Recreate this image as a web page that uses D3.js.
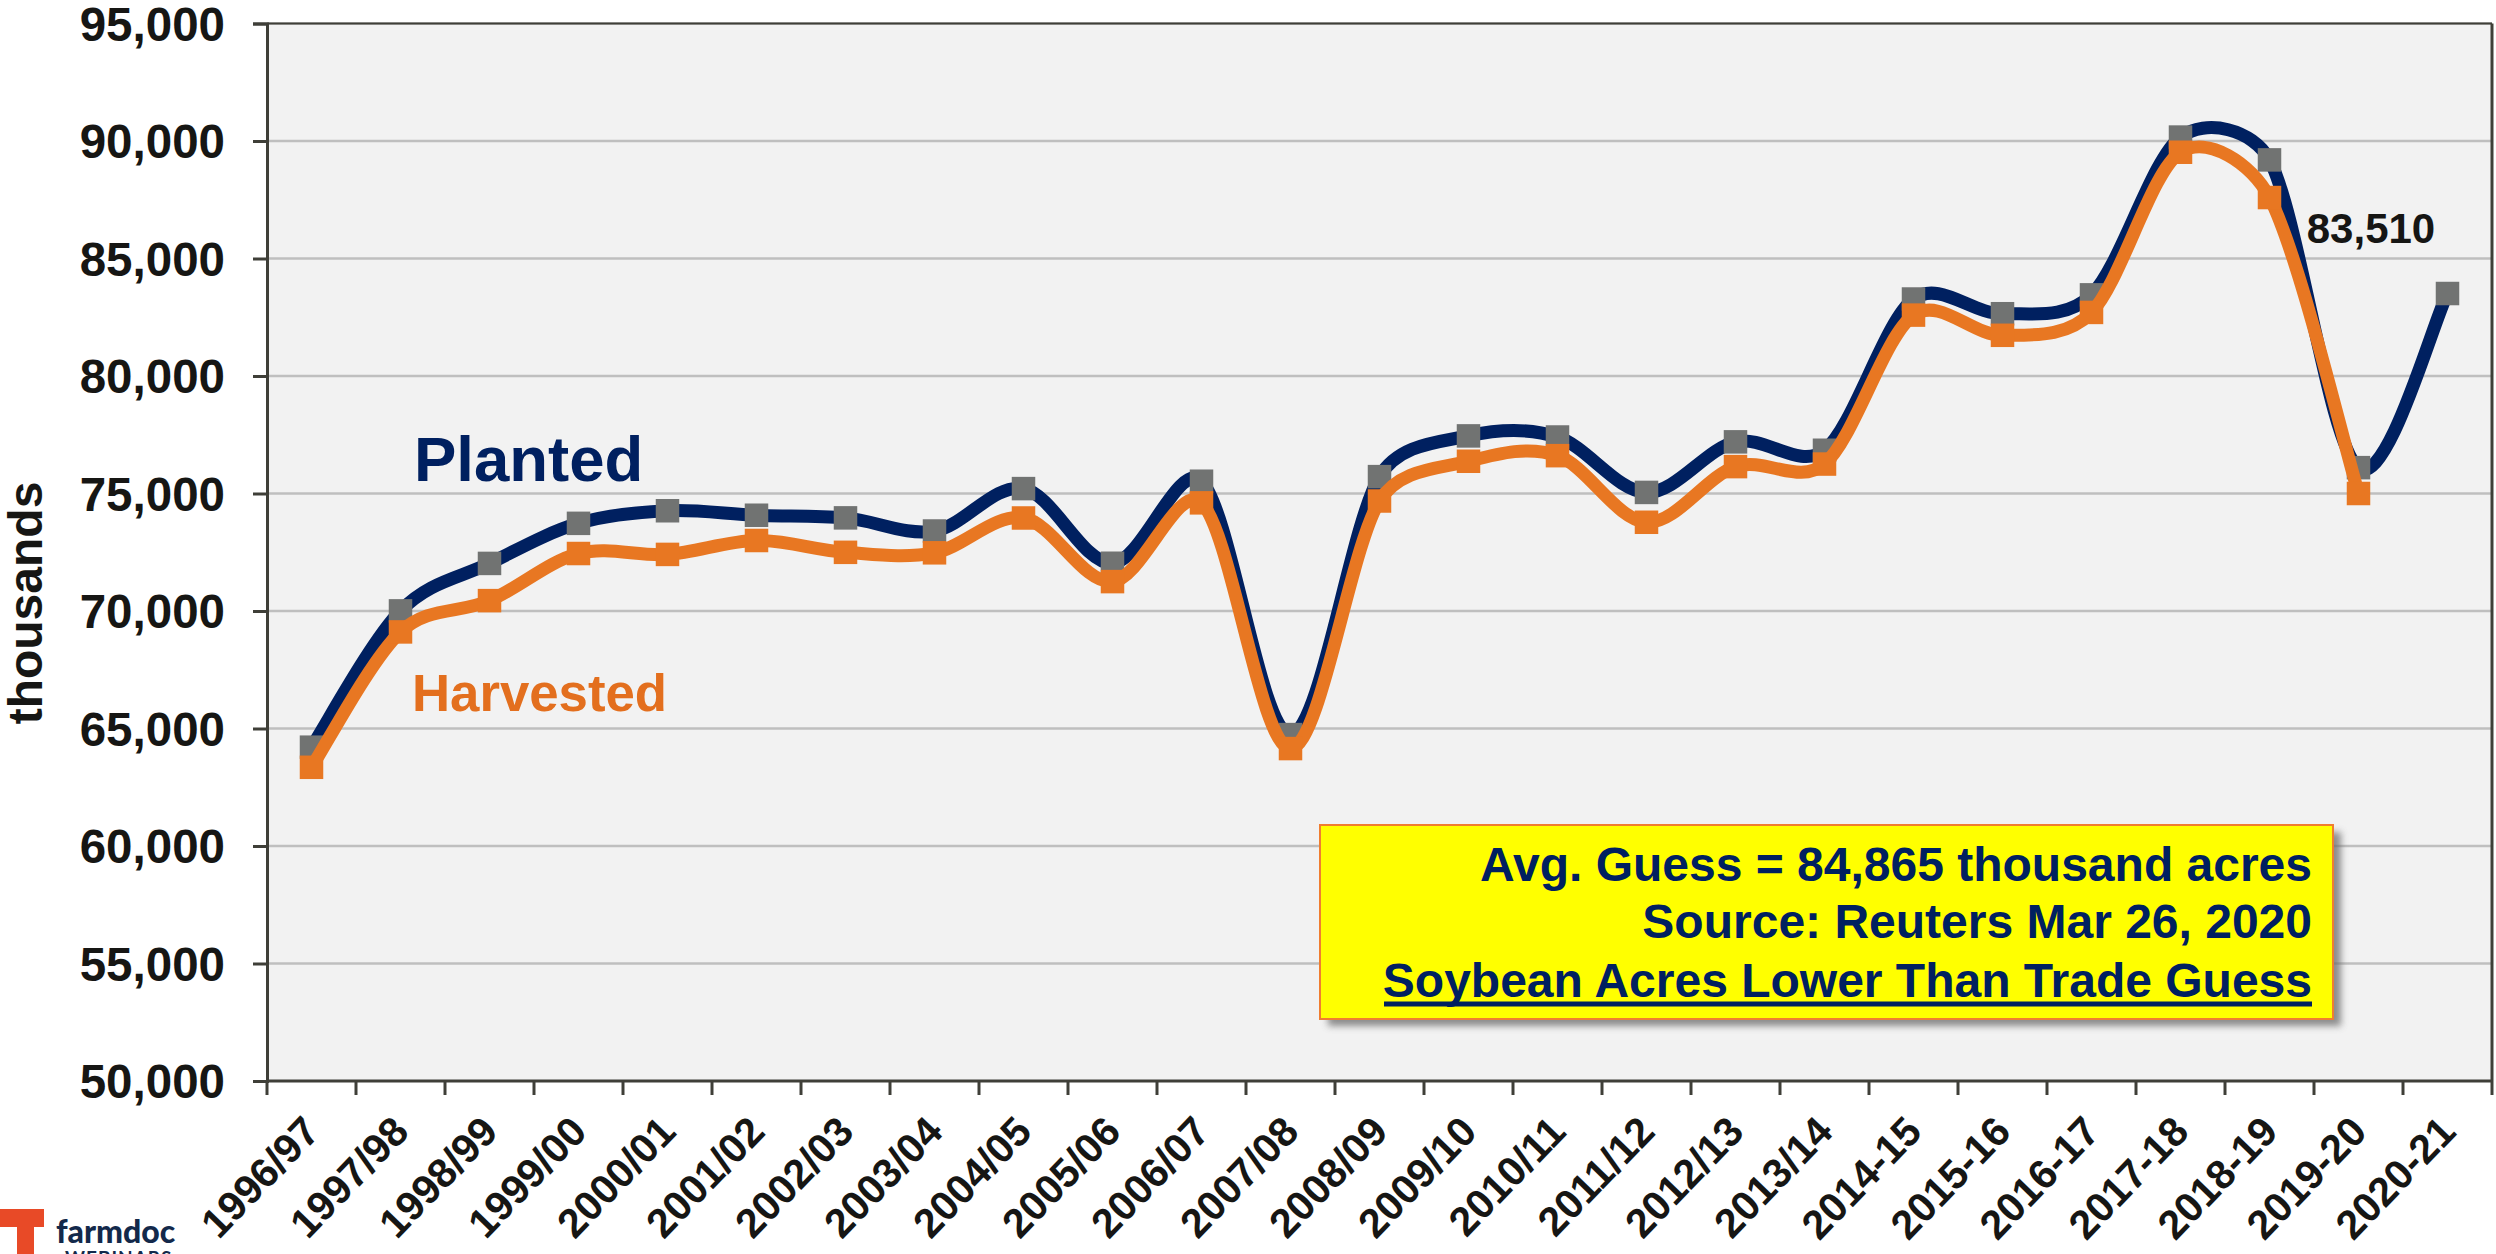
<!DOCTYPE html>
<html><head><meta charset="utf-8">
<script src="https://d3js.org/d3.v7.min.js"></script>
<style>
html,body{margin:0;padding:0;background:#fff}
svg{display:block}
text{font-family:"Liberation Sans",Arial,sans-serif;font-weight:700}
</style></head><body>
<svg id="c" width="2496" height="1254"></svg>
<script>
const categories=["1996/97","1997/98","1998/99","1999/00","2000/01","2001/02","2002/03","2003/04","2004/05","2005/06","2006/07","2007/08","2008/09","2009/10","2010/11","2011/12","2012/13","2013/14","2014-15","2015-16","2016-17","2017-18","2018-19","2019-20","2020-21"];
const planted=[64205,70005,72025,73730,74266,74075,73963,73404,75208,72032,75522,64741,75718,77451,77404,75046,77198,76840,83276,82650,83453,90167,89196,76100,83510];
const harvested=[63349,69110,70441,72446,72408,73000,72497,72476,73958,71251,74602,64146,74681,76372,76610,73776,76144,76253,82591,81732,82706,89522,87594,75000];
const yTicks=[50000,55000,60000,65000,70000,75000,80000,85000,90000,95000];
const boxLines=["Avg. Guess = 84,865 thousand acres","Source: Reuters Mar 26, 2020","Soybean Acres Lower Than Trade Guess"];

const L=267,R=2492,T=23.5,B=1081;
const svg=d3.select("#c");
const x=d3.scaleBand().domain(categories).range([L,R]);
const y=d3.scaleLinear().domain([50000,95000]).range([B,T]);
const cx=c=>x(c)+x.bandwidth()/2;

// spreadsheet-style smooth line: tangent along neighbours, handle shortened on the shorter chord
function sheetCurve(ctx){
  let pts=[];
  return {
    areaStart(){},areaEnd(){},
    lineStart(){pts=[];},
    point(a,b){pts.push([+a,+b]);},
    lineEnd(){
      const k=0.42,cap=1/6,n=pts.length,dist=(p,q)=>Math.hypot(p[0]-q[0],p[1]-q[1]);
      const tan=i=>{const p=pts[i-1],c=pts[i],q=pts[i+1],d1=dist(p,c),d2=dist(c,q),s=d1+d2,
          fo=Math.min(cap,k*d2/s),fi=Math.min(cap,k*d1/s);
        return {out:[c[0]+(q[0]-p[0])*fo,c[1]+(q[1]-p[1])*fo],inn:[c[0]-(q[0]-p[0])*fi,c[1]-(q[1]-p[1])*fi]};};
      ctx.moveTo(pts[0][0],pts[0][1]);
      for(let i=0;i<n-1;i++){
        const a=pts[i],b=pts[i+1];
        const C1=i>0?tan(i).out:[a[0]+(b[0]-a[0])/6,a[1]+(b[1]-a[1])/6];
        const C2=i+1<n-1?tan(i+1).inn:[b[0]-(b[0]-a[0])/6,b[1]-(b[1]-a[1])/6];
        ctx.bezierCurveTo(C1[0],C1[1],C2[0],C2[1],b[0],b[1]);
      }
    }
  };
}

const defs=svg.append("defs");
const f=defs.append("filter").attr("id","sh").attr("x","-5%").attr("y","-10%").attr("width","110%").attr("height","125%");
f.append("feGaussianBlur").attr("stdDeviation",3.5);

svg.append("rect").attr("x",L).attr("y",T).attr("width",R-L).attr("height",B-T).attr("fill","#F2F2F2");
svg.append("g").selectAll("line").data(yTicks.slice(1)).join("line")
 .attr("x1",L).attr("x2",R).attr("y1",d=>y(d)).attr("y2",d=>y(d))
 .attr("stroke","#BFBFBF").attr("stroke-width",2.5);

// axes
const yAxis=d3.axisLeft(y).tickValues(yTicks).tickFormat(d3.format(",")).tickSize(14).tickPadding(28);
const gy=svg.append("g").attr("transform",`translate(${L},0)`).call(yAxis);
gy.select(".domain").attr("stroke","#3F3F38").attr("stroke-width",3);
gy.selectAll(".tick line").attr("stroke","#3F3F38").attr("stroke-width",3);
gy.selectAll("text").attr("font-size",47.5).attr("fill","#161614").attr("font-family",'"Liberation Sans"').attr("font-weight",700).attr("dy","0.35em");

const edges=d3.range(categories.length+1).map(i=>L+i*x.step());
svg.append("g").selectAll("line").data(edges).join("line")
 .attr("x1",d=>d).attr("x2",d=>d).attr("y1",B).attr("y2",B+14)
 .attr("stroke","#3F3F38").attr("stroke-width",3);
svg.append("line").attr("x1",L).attr("x2",R).attr("y1",B).attr("y2",B).attr("stroke","#3F3F38").attr("stroke-width",3);
svg.append("line").attr("x1",R).attr("x2",R).attr("y1",T).attr("y2",B).attr("stroke","#3F3F38").attr("stroke-width",3);
svg.append("line").attr("x1",L).attr("x2",R).attr("y1",T).attr("y2",T).attr("stroke","#3F3F38").attr("stroke-width",2);

svg.append("g").selectAll("text").data(categories).join("text")
 .attr("text-anchor","end").attr("font-size",41).attr("fill","#161614")
 .attr("transform",c=>`translate(${cx(c)-11},${B+32}) rotate(-46)`)
 .attr("dy","0.72em").attr("x",0).text(c=>c);

svg.append("text").attr("text-anchor","middle").attr("font-size",48).attr("fill","#161614")
 .attr("transform","translate(41.5,603) rotate(-90)").text("thousands");

// series
const line=d3.line().x(d=>cx(d.c)).y(d=>y(d.v)).curve(sheetCurve);
function series(vals,lineCol,markCol){
  const data=vals.map((v,i)=>({c:categories[i],v}));
  svg.append("path").datum(data).attr("d",line).attr("fill","none").attr("stroke",lineCol).attr("stroke-width",13).attr("stroke-linejoin","round");
  svg.append("g").selectAll("rect").data(data).join("rect")
   .attr("x",d=>cx(d.c)-11.75).attr("y",d=>y(d.v)-11.75).attr("width",23.5).attr("height",23.5).attr("fill",markCol);
}
series(planted,"#002060","#717372");
series(harvested,"#E87722","#E87722");

svg.append("text").attr("x",414).attr("y",481).attr("font-size",63.5).attr("fill","#002060").text("Planted");
svg.append("text").attr("x",412).attr("y",711).attr("font-size",51).attr("textLength",255).attr("lengthAdjust","spacingAndGlyphs").attr("fill","#E36F1E").text("Harvested");
svg.append("text").attr("x",2371).attr("y",243).attr("text-anchor","middle").attr("font-size",42).attr("fill","#161614").text(d3.format(",")(planted[planted.length-1]));

// callout
svg.append("rect").attr("x",1328).attr("y",832).attr("width",1013).attr("height",194).attr("fill","#6b6b6b").attr("opacity",.75).attr("filter","url(#sh)");
svg.append("rect").attr("x",1320).attr("y",825).attr("width",1013).attr("height",194).attr("fill","#FFFF00").attr("stroke","#F07D30").attr("stroke-width",2);
const by=[881,938,997];
svg.append("g").selectAll("text").data(boxLines).join("text")
 .attr("x",2312).attr("y",(d,i)=>by[i]).attr("text-anchor","end").attr("font-size",48).attr("fill","#002060").text(d=>d);
svg.append("line").attr("x1",1384).attr("x2",2312).attr("y1",1004).attr("y2",1004).attr("stroke","#002060").attr("stroke-width",5);

// logo
const logo=svg.append("g");
logo.append("path").attr("d","M0 1209H44V1227H34V1254H17V1227H0Z").attr("fill","#E84A27");
logo.append("text").attr("x",56).attr("y",1243).attr("font-size",32).attr("fill","#13294B").style("font-family","Lato").style("font-weight",900).text("farmdoc");
logo.append("text").attr("x",65).attr("y",1265).attr("font-size",19).attr("letter-spacing",1).attr("fill","#13294B").style("font-family","Lato").text("WEBINARS");
</script></body></html>
